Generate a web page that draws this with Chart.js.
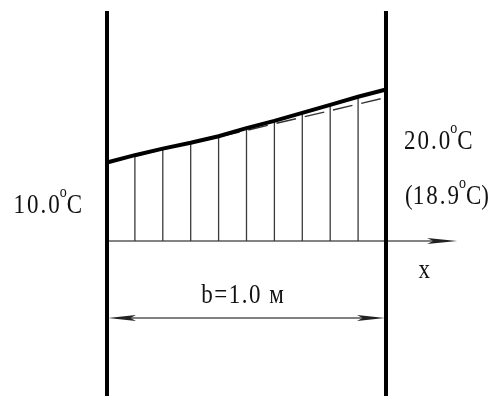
<!DOCTYPE html>
<html>
<head>
<meta charset="utf-8">
<script src="https://cdn.jsdelivr.net/npm/chart.js@4/dist/chart.umd.min.js"></script>
<style>
  html, body { margin: 0; padding: 0; background: #fff; }
  #wrap { width: 495px; height: 396px; }
</style>
</head>
<body>
<div id="wrap"><canvas id="c" width="495" height="396"></canvas></div>
<script>
// Wall cross-section positions (m) and temperatures (°C)
const POSITIONS = [0, 0.1, 0.2, 0.3, 0.4, 0.5, 0.6, 0.7, 0.8, 0.9, 1.0];
const SOLID_T   = [10.0, 11.0, 11.9, 12.7, 13.6, 14.7, 15.7, 16.8, 17.9, 19.0, 20.0];
const DASHED_T  = [10.0, 10.9, 11.8, 12.7, 13.5, 14.4, 15.3, 16.2, 17.1, 18.0, 18.9];
const WIDTH_M   = 1.0;

// Drawing levels, in the same units as the scales
const BASE_T    = -0.75;          // x axis line
const DIM_T     = -11.3;          // width dimension line
const WALL_T    = [30.75, -22.5]; // wall top / bottom
const AXIS_END  = 1.255;          // tip of the x axis arrow
const X_RANGE   = [-0.3835, 1.3907];
const Y_RANGE   = [-21.99, 32.26];

const SERIF = '"Liberation Serif"';
const SY = 1.2; // vertical stretch of the lettering

const pts = (xs, ys) => xs.map((x, i) => ({ x, y: ys[i] }));

// vertical hatch lines between the axis and the solid profile
const hatch = [];
for (let i = 1; i < POSITIONS.length - 1; i++) {
  hatch.push({ x: POSITIONS[i], y: BASE_T }, { x: POSITIONS[i], y: SOLID_T[i] }, { x: POSITIONS[i], y: null });
}

const walls = [
  { x: 0, y: WALL_T[0] }, { x: 0, y: WALL_T[1] }, { x: 0, y: null },
  { x: WIDTH_M, y: WALL_T[0] }, { x: WIDTH_M, y: WALL_T[1] }
];

function arrowHead(ctx, tipX, y, dir, len, half, color) {
  ctx.save();
  ctx.fillStyle = color;
  ctx.beginPath();
  ctx.moveTo(tipX, y);
  ctx.lineTo(tipX - dir * len, y - half);
  ctx.lineTo(tipX - dir * len * 0.8, y);
  ctx.lineTo(tipX - dir * len, y + half);
  ctx.closePath();
  ctx.fill();
  ctx.restore();
}

// width of a text piece, with optional extra spacing between characters
function pieceWidth(ctx, p) {
  ctx.font = p.size + 'px ' + SERIF;
  const chars = Array.from(p.t);
  let w = 0;
  chars.forEach(ch => { w += ctx.measureText(ch).width; });
  return w + (p.sp || 0) * (chars.length - 1);
}

// draws a run of text pieces; align = 'left' | 'right' | 'center'
function pieces(ctx, parts, x, baseline, align) {
  ctx.save();
  ctx.fillStyle = '#111';
  ctx.textBaseline = 'alphabetic';
  ctx.textAlign = 'left';
  const widths = parts.map(p => pieceWidth(ctx, p));
  const total = widths.reduce((a, b) => a + b, 0);
  let cx = align === 'right' ? x - total : align === 'center' ? x - total / 2 : x;
  parts.forEach((p, i) => {
    ctx.font = p.size + 'px ' + SERIF;
    let px = cx;
    Array.from(p.t).forEach(ch => {
      ctx.save();
      ctx.translate(px, baseline - (p.rise || 0));
      ctx.scale(1, SY);
      ctx.fillText(ch, 0, 0);
      ctx.restore();
      px += ctx.measureText(ch).width + (p.sp || 0);
    });
    cx += widths[i];
  });
  ctx.restore();
}

function tempParts(v, paren) {
  const parts = [];
  if (paren) parts.push({ t: '(', size: 23 });
  parts.push({ t: v.toFixed(1), size: 23, sp: 2 });
  parts.push({ t: 'o', size: 14, rise: 16 });
  parts.push({ t: 'C' + (paren ? ')' : ''), size: 23 });
  return parts;
}

const annotations = {
  id: 'annotations',
  afterDatasetsDraw(chart) {
    const { ctx, scales: { x: xs, y: ys } } = chart;
    const x0 = xs.getPixelForValue(0);
    const x1 = xs.getPixelForValue(WIDTH_M);
    const yb = ys.getPixelForValue(BASE_T);
    const yd = ys.getPixelForValue(DIM_T);

    // arrows
    arrowHead(ctx, xs.getPixelForValue(AXIS_END), yb, 1, 30, 3, '#222');
    arrowHead(ctx, x0 + 1, yd, -1, 28, 3, '#222');
    arrowHead(ctx, x1 - 1, yd, 1, 28, 3, '#222');

    // temperature labels
    pieces(ctx, tempParts(SOLID_T[0], false), x0 - 25, yb - 28, 'right');
    pieces(ctx, tempParts(SOLID_T[SOLID_T.length - 1], false), x1 + 18, yb - 92, 'left');
    pieces(ctx, tempParts(DASHED_T[DASHED_T.length - 1], true), x1 + 19, yb - 37, 'left');

    // axis name and width
    pieces(ctx, [{ t: 'x', size: 23 }], xs.getPixelForValue(AXIS_END) - 33, yb + 37, 'center');
    pieces(ctx, [{ t: 'b=' + WIDTH_M.toFixed(1) + ' м', size: 23, sp: 1.5 }], (x0 + x1) / 2 - 4, yd - 15, 'center');
  }
};

const line = (data, color, width, extra) => Object.assign({
  data, borderColor: color, borderWidth: width, pointRadius: 0,
  showLine: true, spanGaps: false, fill: false, tension: 0
}, extra || {});

new Chart(document.getElementById('c'), {
  type: 'scatter',
  data: {
    datasets: [
      line(walls, '#000', 4),
      line(pts(POSITIONS, SOLID_T), '#000', 4),
      line(pts(POSITIONS, DASHED_T), '#333', 1.4, { borderDash: [20, 9] }),
      line(hatch, '#3a3a3a', 1.3),
      line([{ x: 0, y: BASE_T }, { x: AXIS_END - 0.08, y: BASE_T }], '#5a5a5a', 1.6),
      line([{ x: 0.05, y: DIM_T }, { x: WIDTH_M - 0.05, y: DIM_T }], '#808080', 2)
    ]
  },
  options: {
    responsive: false,
    devicePixelRatio: 1,
    animation: false,
    layout: { padding: 0 },
    plugins: { legend: { display: false }, tooltip: { enabled: false } },
    scales: {
      x: { type: 'linear', display: false, min: X_RANGE[0], max: X_RANGE[1] },
      y: { type: 'linear', display: false, min: Y_RANGE[0], max: Y_RANGE[1] }
    }
  },
  plugins: [annotations]
});
</script>
</body>
</html>
